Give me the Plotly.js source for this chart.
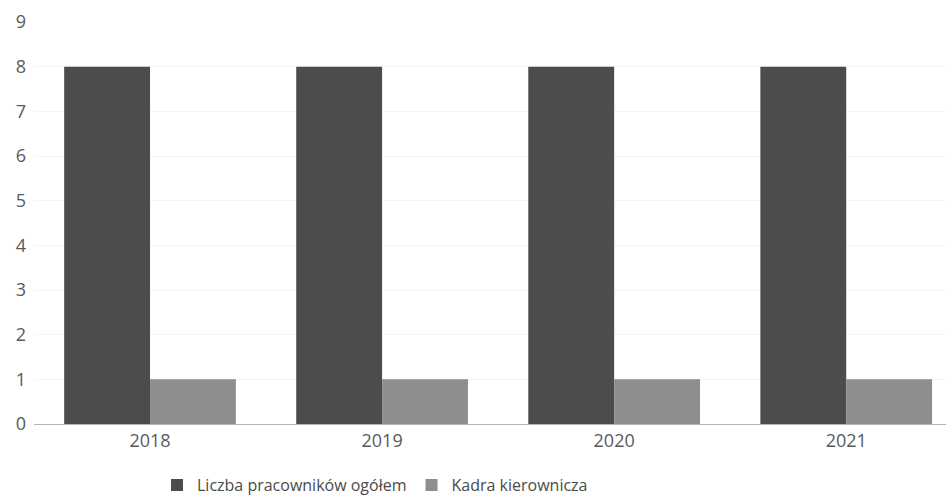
<!DOCTYPE html>
<html><head><meta charset="utf-8">
<script src="https://cdn.plot.ly/plotly-3.0.1.min.js"></script>
<style>body{margin:0;background:#fff}#c{width:946px;height:500px}</style>
</head><body><div id="c"></div>
<script>
const years = ['2018','2019','2020','2021'];
const totalStaff = [8,8,8,8];
const management = [1,1,1,1];
const seriesNames = ['Liczba pracowników ogółem','Kadra kierownicza'];

const traces = [
  {type:'bar', x:years, y:totalStaff, name:seriesNames[0],
   marker:{color:'#4d4b4c', line:{width:0}}},
  {type:'bar', x:years, y:management, name:seriesNames[1],
   marker:{color:'#8f8d8e', line:{width:0}}}
];
const layout = {
  width:946, height:500,
  margin:{l:34, r:0, t:22, b:76, autoexpand:false},
  paper_bgcolor:'#fff', plot_bgcolor:'#fff',
  font:{family:'Open Sans', color:'#5a5a5a', size:16},
  barmode:'group', bargap:0.26, bargroupgap:0,
  showlegend:true,
  legend:{orientation:'h', x:(157-34)/912, xanchor:'left', y:-0.152, yanchor:'middle',
          font:{size:16, color:'#4a4a4a'}, itemwidth:30, traceorder:'normal'},
  xaxis:{type:'category', range:[-0.5,3.43], showline:true, linecolor:'#b5b5b5', linewidth:1,
         ticks:'', tickfont:{size:18, color:'#5a5a5a'}, showgrid:false, zeroline:false},
  yaxis:{range:[0,9], dtick:1, showline:false, ticks:'', gridcolor:'#f4f4f4', zeroline:false,
         tickfont:{size:18, color:'#5a5a5a'}, ticklabelstandoff:7}
};
Plotly.newPlot('c', traces, layout, {displayModeBar:false, staticPlot:true});
</script></body></html>
